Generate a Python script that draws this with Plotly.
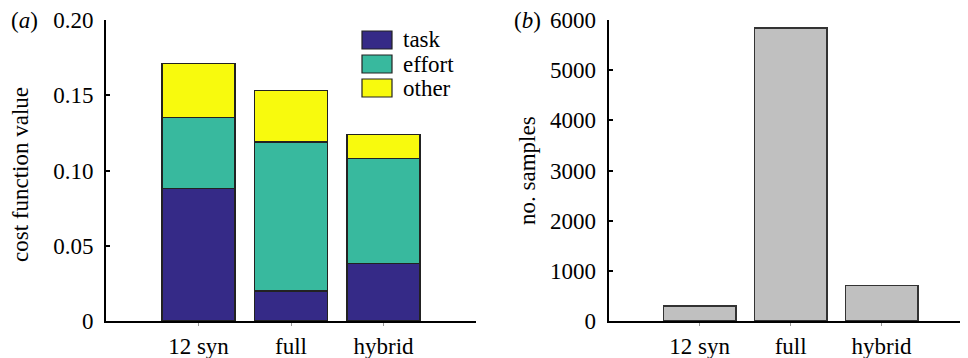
import plotly.graph_objects as go

categories = ["12 syn", "full", "hybrid"]
task = [0.088, 0.020, 0.038]
effort = [0.047, 0.099, 0.070]
other = [0.036, 0.034, 0.016]
samples = [300, 5840, 700]

series_names = ["task", "effort", "other"]
series_colors = ["#352a87", "#38b99e", "#f8fa0d"]
series_values = [task, effort, other]

OFF = 8  # page body margin
W, H = 968 - OFF, 358 - OFF
FONT = "'Liberation Serif', 'Times New Roman', 'DejaVu Serif', serif"
FS = 23

def px(xref_pix):
    return (xref_pix - OFF) / W

TOP = 20 - OFF
BOT = 321 - OFF
ph = BOT - TOP

def py(yref_pix):
    return 1 - (yref_pix - OFF - TOP) / ph

fig = go.Figure()
for name, col, vals in zip(series_names, series_colors, series_values):
    fig.add_trace(go.Bar(x=categories, y=vals, name=name, marker_color=col,
                         marker_line=dict(color="#222222", width=1.2),
                         width=0.79, xaxis="x", yaxis="y", showlegend=False))

fig.add_trace(go.Bar(x=categories, y=samples, name="no. samples",
                     marker_color="#c0c0c0",
                     marker_line=dict(color="#333333", width=1.2),
                     width=0.8, xaxis="x2", yaxis="y2", showlegend=False))

axis_common = dict(showline=True, linecolor="black", linewidth=2,
                   showgrid=False, zeroline=False, ticklabeloverflow="allow",
                   tickfont=dict(family=FONT, size=FS, color="black"))

fig.update_layout(
    width=W, height=H,
    margin=dict(l=0, r=0, t=TOP, b=H - BOT),
    paper_bgcolor="white", plot_bgcolor="white",
    barmode="stack",
    font=dict(family=FONT, color="black"),
    xaxis=dict(domain=[px(106), px(476)], range=[-1, 3], type="category",
               ticks="outside", ticklen=3, tickcolor="#999999", **axis_common),
    yaxis=dict(range=[0, 0.2], tickvals=[0, 0.05, 0.10, 0.15, 0.20],
               ticktext=["0", "0.05", "0.10", "0.15", "0.20"],
               ticks="inside", ticklen=4, tickwidth=2, tickcolor="black",
               ticklabelstandoff=6, **axis_common),
    xaxis2=dict(domain=[px(608.7), 1.0], range=[-1, 2.95], type="category",
                anchor="y2", ticks="outside", ticklen=3, tickcolor="#999999",
                **axis_common),
    yaxis2=dict(range=[0, 6000], tickvals=[0, 1000, 2000, 3000, 4000, 5000, 6000],
                anchor="x2", ticks="inside", ticklen=4, tickwidth=2,
                tickcolor="black", ticklabelstandoff=6, **axis_common),
)

# axis titles and panel labels
fig.add_annotation(text="cost function value", x=px(20), y=py(175), xref="paper",
                   yref="paper", textangle=-90, showarrow=False,
                   font=dict(family=FONT, size=FS), xanchor="center", yanchor="middle")
fig.add_annotation(text="no. samples", x=px(527), y=py(171), xref="paper",
                   yref="paper", textangle=-90, showarrow=False,
                   font=dict(family=FONT, size=FS), xanchor="center", yanchor="middle")
fig.add_annotation(text="(<i>a</i>)", x=px(9), y=py(20), xref="paper", yref="paper",
                   showarrow=False, font=dict(family=FONT, size=FS),
                   xanchor="left", yanchor="middle")
fig.add_annotation(text="(<i>b</i>)", x=px(512), y=py(20), xref="paper", yref="paper",
                   showarrow=False, font=dict(family=FONT, size=FS),
                   xanchor="left", yanchor="middle")

# custom legend (boxes + labels), positioned in reference pixels
leg_x0, leg_x1 = 362, 392
row_centers = [40, 64, 88]
for name, col, yc in zip(series_names, series_colors, row_centers):
    fig.add_shape(type="rect", xref="paper", yref="paper",
                  x0=px(leg_x0), x1=px(leg_x1), y0=py(yc + 9), y1=py(yc - 9),
                  fillcolor=col, line=dict(color="#222222", width=1.2))
    fig.add_annotation(text=name, x=px(401), y=py(yc), xref="paper", yref="paper",
                       showarrow=False, xanchor="left", yanchor="middle",
                       font=dict(family=FONT, size=FS))

fig.write_html("out.html")
